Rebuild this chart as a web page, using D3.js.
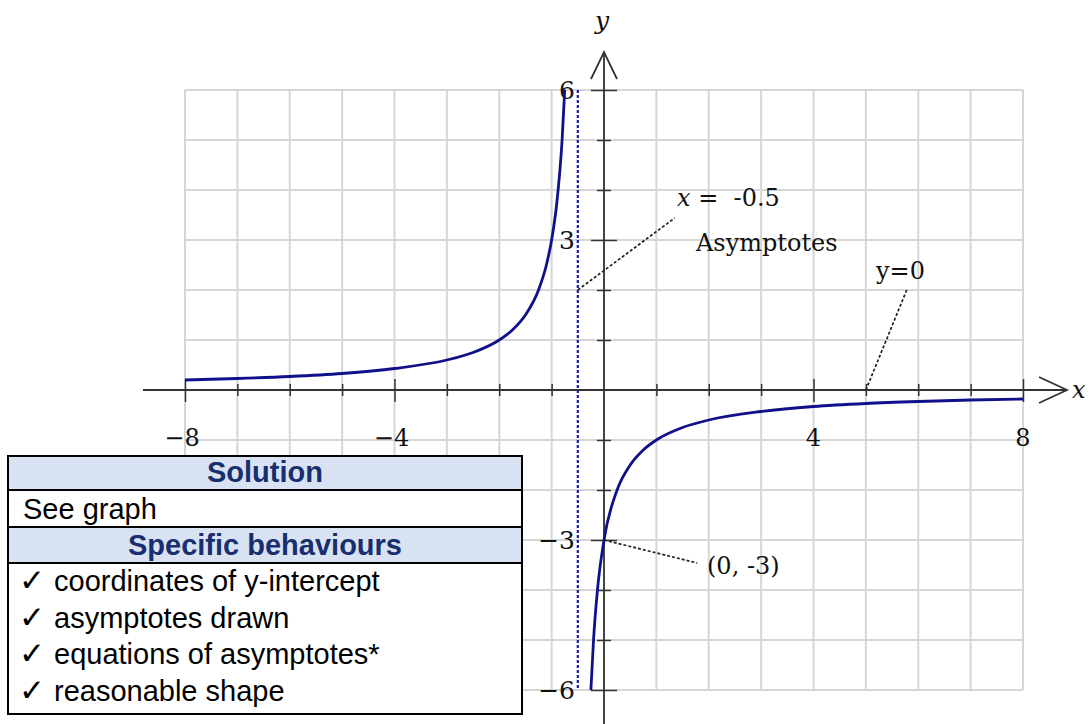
<!DOCTYPE html>
<html>
<head>
<meta charset="utf-8">
<script src="https://cdn.jsdelivr.net/npm/d3@7"></script>
<style>
  body { margin: 0; background: #fff; }
  svg { display: block; }
  .math { font-family: "DejaVu Serif", "Liberation Serif", serif; fill: #111; }
  .tbl { font-family: "Liberation Sans", Arial, sans-serif; fill: #000; }
  .tbl.head { font-weight: bold; fill: #172f6e; }
</style>
</head>
<body>
<div id="chart"></div>
<script>
// curve, two branches either side of x = -0.5
const leftX  = [-8, -7, -6, -5, -4, -3, -2.5, -2, -1.75, -1.5, -1.25, -1.1, -1, -0.9, -0.8, -0.75];
const leftY  = [0.2, 0.23, 0.27, 0.33, 0.43, 0.6, 0.75, 1.0, 1.2, 1.5, 2.0, 2.5, 3.0, 3.75, 5.0, 6.0];
const rightX = [-0.25, -0.2, -0.125, 0, 0.25, 0.5, 0.75, 1, 1.5, 2, 3, 4, 5, 6, 7, 8];
const rightY = [-6, -5, -4, -3, -2, -1.5, -1.2, -1.0, -0.75, -0.6, -0.43, -0.33, -0.27, -0.23, -0.2, -0.18];

const gridX = [-8, -7, -6, -5, -4, -3, -2, -1, 0, 1, 2, 3, 4, 5, 6, 7, 8];
const gridY = [-6, -5, -4, -3, -2, -1, 0, 1, 2, 3, 4, 5, 6];
const xTicks = [-8, -7, -6, -5, -4, -3, -2, -1, 1, 2, 3, 4, 5, 6, 7, 8];
const yTicks = [-6, -5, -4, -3, -2, -1, 1, 2, 3, 4, 5, 6];
const xLabels = [-8, -4, 4, 8];
const yLabels = [-6, -3, 3, 6];

const asymptoteX = -0.5;
const interceptPt = [0, -3];
const zeroPt = [5, 0];

const tableRows = [
  { text: "Solution", head: true },
  { text: "See graph", head: false },
  { text: "Specific behaviours", head: true }
];
const behaviours = [
  "coordinates of y-intercept",
  "asymptotes drawn",
  "equations of asymptotes*",
  "reasonable shape"
];

const width = 1088, height = 724;
const curveColor = "#10108a";

const svg = d3.select("#chart").append("svg")
  .attr("width", width)
  .attr("height", height);

const x = d3.scaleLinear().domain([-8, 8]).range([185, 1023]);
const y = d3.scaleLinear().domain([-6, 6]).range([690, 90]);

// grid
const grid = svg.append("g").attr("stroke", "#d6d6d6").attr("stroke-width", 2);
grid.selectAll(".gx").data(gridX).join("line")
  .attr("x1", d => x(d)).attr("x2", d => x(d))
  .attr("y1", y(6)).attr("y2", y(-6));
grid.selectAll(".gy").data(gridY).join("line")
  .attr("y1", d => y(d)).attr("y2", d => y(d))
  .attr("x1", x(-8)).attr("x2", x(8));

// axes, ticks cross the axis line
const axisColor = "#333";
const xAxis = d3.axisBottom(x).tickValues(xTicks).tickFormat("").tickSize(6);
const gx = svg.append("g").attr("transform", `translate(0,${y(0)})`).call(xAxis);
gx.select(".domain").remove();
gx.selectAll(".tick line")
  .attr("stroke", axisColor).attr("stroke-width", 1.5)
  .attr("y1", d => d % 4 == 0 ? -11 : -6)
  .attr("y2", d => d % 4 == 0 ? 12 : 6);

const yAxis = d3.axisLeft(y).tickValues(yTicks).tickFormat("").tickSize(7);
const gy = svg.append("g").attr("transform", `translate(${x(0)},0)`).call(yAxis);
gy.select(".domain").remove();
gy.selectAll(".tick line")
  .attr("stroke", axisColor).attr("stroke-width", 1.5)
  .attr("x1", d => d % 3 == 0 ? -13 : -7)
  .attr("x2", d => d % 3 == 0 ? 13 : 7);

svg.append("line")
  .attr("x1", 143).attr("x2", 1066)
  .attr("y1", y(0)).attr("y2", y(0))
  .attr("stroke", axisColor).attr("stroke-width", 1.8);
svg.append("polyline")
  .attr("points", `${1039},${y(0) - 13} ${1067},${y(0)} ${1039},${y(0) + 13}`)
  .attr("fill", "none").attr("stroke", axisColor).attr("stroke-width", 1.8);
svg.append("line")
  .attr("x1", x(0)).attr("x2", x(0))
  .attr("y1", height).attr("y2", 53)
  .attr("stroke", axisColor).attr("stroke-width", 1.8);
svg.append("polyline")
  .attr("points", `${x(0) - 13},79 ${x(0)},52 ${x(0) + 13},79`)
  .attr("fill", "none").attr("stroke", axisColor).attr("stroke-width", 1.8);

svg.append("text").attr("class", "math")
  .attr("x", x(0) - 2).attr("y", 29)
  .attr("text-anchor", "middle")
  .style("font-style", "italic").style("font-size", "25px")
  .text("y");
svg.append("text").attr("class", "math")
  .attr("x", 1072).attr("y", y(0) + 8)
  .style("font-style", "italic").style("font-size", "24px")
  .text("x");

// tick labels
svg.selectAll(".xl").data(xLabels).join("text")
  .attr("class", "math")
  .attr("x", d => x(d) - (d < 0 ? 3 : 0))
  .attr("y", 446)
  .attr("text-anchor", "middle")
  .style("font-size", "24px")
  .text(d => d < 0 ? "\u2212" + Math.abs(d) : d);
svg.selectAll(".yl").data(yLabels).join("text")
  .attr("class", "math")
  .attr("x", x(0) - 29)
  .attr("y", d => y(d) + 9)
  .attr("text-anchor", "end")
  .style("font-size", "25px")
  .text(d => d < 0 ? "\u2212" + Math.abs(d) : d);

// vertical asymptote
svg.append("line")
  .attr("x1", x(asymptoteX)).attr("x2", x(asymptoteX))
  .attr("y1", y(6)).attr("y2", y(-6))
  .attr("stroke", "#1c1ca4").attr("stroke-width", 2.2)
  .attr("stroke-dasharray", "3,2");

// curve
const line = d3.line()
  .x(d => x(d[0]))
  .y(d => y(d[1]))
  .curve(d3.curveMonotoneX);
[d3.zip(leftX, leftY), d3.zip(rightX, rightY)].forEach(pts => {
  svg.append("path")
    .datum(pts)
    .attr("d", line)
    .attr("fill", "none")
    .attr("stroke", curveColor)
    .attr("stroke-width", 2.8);
});

// annotations with dashed leaders
const leaders = [
  [[asymptoteX, 2], [1.35, 3.44]],
  [zeroPt, [5.78, 2.0]],
  [interceptPt, [1.78, -3.46]]
];
svg.selectAll(".leader").data(leaders).join("line")
  .attr("x1", d => x(d[0][0])).attr("y1", d => y(d[0][1]))
  .attr("x2", d => x(d[1][0])).attr("y2", d => y(d[1][1]))
  .attr("stroke", "#222").attr("stroke-width", 1.7)
  .attr("stroke-dasharray", "3,2");

const eq = svg.append("text").attr("class", "math")
  .attr("x", 677).attr("y", 206).style("font-size", "24px");
eq.append("tspan").style("font-style", "italic").text("x");
eq.append("tspan").attr("xml:space", "preserve").text(" =  -0.5");
svg.append("text").attr("class", "math")
  .attr("x", 696).attr("y", 251).style("font-size", "24px")
  .text("Asymptotes");
svg.append("text").attr("class", "math")
  .attr("x", 876).attr("y", 279).style("font-size", "24px")
  .text("y=0");
svg.append("text").attr("class", "math")
  .attr("x", 707).attr("y", 574).style("font-size", "24px")
  .text("(0, -3)");

// marking table
const tbl = { left: 8, right: 522, top: 456 };
const rowH = [34, 37, 36];
let rowTop = tbl.top;
tableRows.forEach((r, i) => {
  svg.append("rect")
    .attr("x", tbl.left).attr("y", rowTop)
    .attr("width", tbl.right - tbl.left).attr("height", rowH[i])
    .attr("fill", r.head ? "#d9e2f3" : "#fff")
    .attr("stroke", "#000").attr("stroke-width", 2);
  svg.append("text")
    .attr("class", r.head ? "tbl head" : "tbl")
    .attr("x", r.head ? (tbl.left + tbl.right) / 2 : tbl.left + 15)
    .attr("y", rowTop + rowH[i] - 8)
    .attr("text-anchor", r.head ? "middle" : "start")
    .style("font-size", "29px")
    .text(r.text);
  rowTop += rowH[i];
});
svg.append("rect")
  .attr("x", tbl.left).attr("y", rowTop)
  .attr("width", tbl.right - tbl.left).attr("height", 714 - rowTop)
  .attr("fill", "#fff")
  .attr("stroke", "#000").attr("stroke-width", 2);
const beh = svg.selectAll(".beh").data(behaviours).join("text")
  .attr("class", "tbl")
  .attr("y", (d, i) => rowTop + 28 + i * 36.5)
  .style("font-size", "29px");
beh.append("tspan").attr("x", tbl.left + 11).style("font-size", "31px").text("\u2713");
beh.append("tspan").attr("x", tbl.left + 46).text(d => d);
</script>
</body>
</html>
